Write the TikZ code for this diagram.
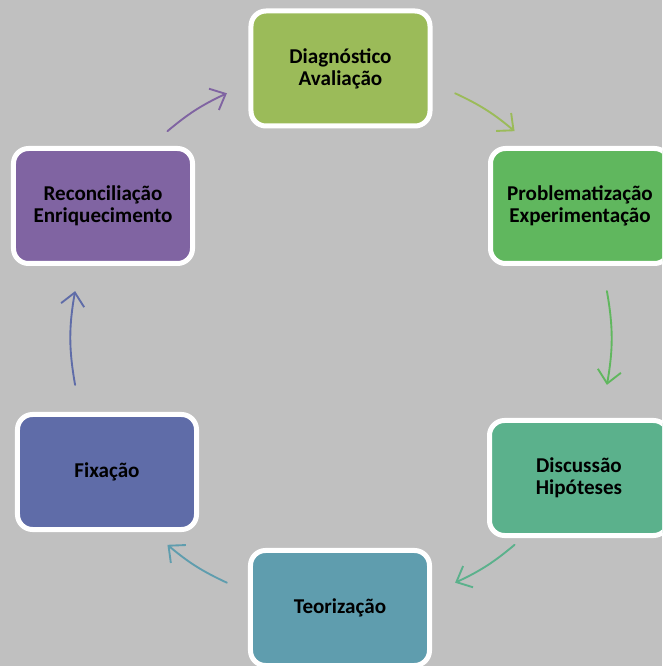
\documentclass[tikz,border=0pt]{standalone}
\usepackage{fontspec}
\setmainfont{Carlito}
\usetikzlibrary{arrows.meta,calc,positioning}
\definecolor{cyclegrey}{RGB}{192,192,192}
\definecolor{cycleolive}{RGB}{155,187,89}
\definecolor{cyclegreen}{RGB}{96,183,94}
\definecolor{cyclesea}{RGB}{91,177,140}
\definecolor{cycleteal}{RGB}{95,157,174}
\definecolor{cycleblue}{RGB}{95,108,168}
\definecolor{cyclepurple}{RGB}{128,100,162}
\tikzset{
 stagebox/.style={draw=white,line width=5*0.03cm,rounded corners=0.45cm,
 minimum width=5.37cm,minimum height=3.45cm,align=center,text=black,
 font=\fontsize{18}{18.7}\selectfont\bfseries},
 cyclearrow/.style={->,line width=1.6pt,line cap=round}
}

\begin{document}
\begin{tikzpicture}[x=0.03cm,y=0.03cm,>={Straight Barb[length=11pt,width=20pt]}]
\clip (0,0) rectangle (662,666);
\fill[cyclegrey] (0,0) rectangle (662,666);
\coordinate (c) at (341,328);
\node[stagebox,fill=cycleolive] (diag) at (340.5,597.5) {Diagnóstico\\Avaliação};
\node[stagebox,fill=cyclegreen] (prob) at (580,460) {Problematização\\Experimentação};
\node[stagebox,fill=cyclesea] (disc) at (579,188) {Discussão\\Hipóteses};
\node[stagebox,fill=cycleteal] (teor) at (340,58) {Teorização};
\node[stagebox,fill=cycleblue] (fix) at (107,194) {Fixação};
\node[stagebox,fill=cyclepurple] (rec) at (103,460) {Reconciliação\\Enriquecimento};
% arrow ends on the circle round (c)
\foreach \n/\a/\b/\col in {1/65/50/cycleolive,2/10/-10/cyclegreen,3/-50/-65/cyclesea,
 4/-115/-130/cycleteal,5/190/170/cycleblue,6/130/115/cyclepurple}{
 \coordinate (s\n) at ($(c)+(\a:270)$);
 \coordinate (e\n) at ($(c)+(\b:270)$);
 \pgfmathsetmacro\bend{(\a-\b)/2}
 \draw[cyclearrow,\col] (s\n) to[bend left=\bend] (e\n);
}
\end{tikzpicture}
\end{document}
